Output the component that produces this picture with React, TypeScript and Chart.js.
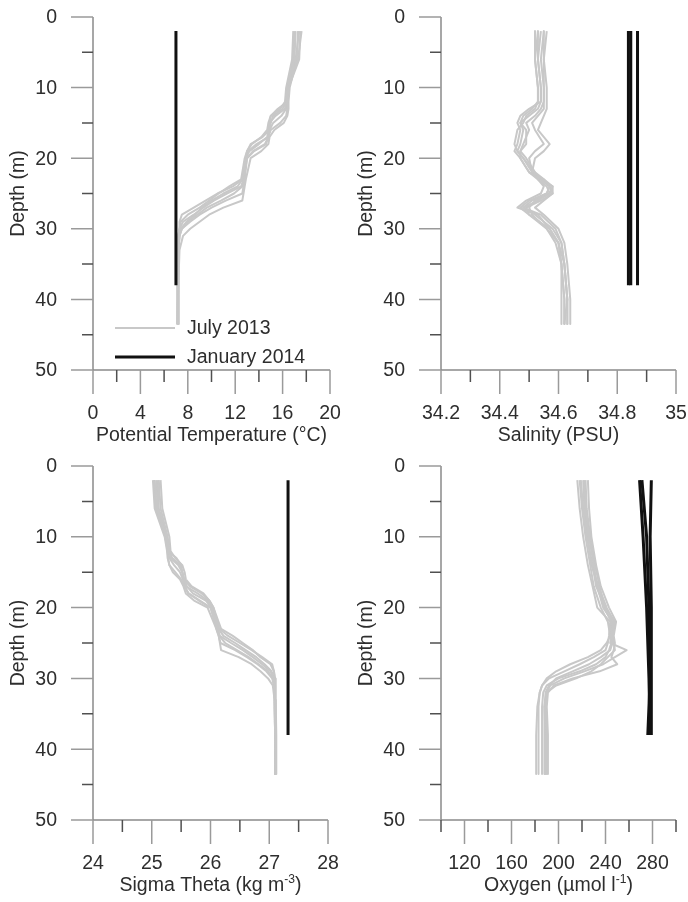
import React, { useEffect, useRef } from "react";
import { Chart, registerables } from "chart.js";

Chart.register(...registerables);

// ---------------- shared ----------------
const seriesLabels = ["July 2013", "January 2014"];
const depthTicks = [0, 10, 20, 30, 40, 50];
const depthMinorTicks = [5, 15, 25, 35, 45];

// ---------------- potential temperature ----------------
const tempTicks = [0, 4, 8, 12, 16, 20];
const tempMinorTicks = [2, 6, 10, 14, 18];
const julyTempDepth = [2, 6, 10, 12, 13, 14, 15, 16, 17, 18, 19, 20, 23, 24, 25, 26, 27, 28, 29, 30, 31, 33, 38, 43.5];
const julyTempA = [17.5, 17.4, 16.5, 16.4, 15.6, 15.0, 14.9, 14.9, 14.3, 13.3, 13.0, 12.9, 12.6, 11.8, 10.5, 9.5, 8.5, 7.5, 7.3, 7.3, 7.2, 7.2, 7.2, 7.2];
const julyTempB = [17.1, 17.0, 16.4, 16.3, 16.2, 15.4, 14.9, 14.8, 14.7, 14.0, 13.2, 12.9, 12.7, 12.5, 11.3, 10.2, 9.3, 8.5, 7.6, 7.3, 7.2, 7.2, 7.2, 7.1];
const julyTempC = [17.6, 17.3, 16.5, 16.4, 16.4, 16.3, 15.8, 15.0, 14.8, 14.6, 13.6, 13.0, 12.8, 12.7, 12.6, 11.2, 10.0, 9.0, 8.2, 7.5, 7.3, 7.2, 7.2, 7.2];
const julyTempD = [16.9, 16.8, 16.3, 16.2, 15.8, 15.0, 14.8, 14.7, 14.2, 13.4, 13.0, 12.8, 12.5, 11.5, 10.6, 9.8, 9.0, 8.0, 7.4, 7.3, 7.2, 7.2, 7.2, 7.2];
const julyTempE = [17.3, 17.2, 16.6, 16.5, 16.5, 16.4, 16.1, 15.3, 14.9, 14.8, 14.2, 13.3, 12.9, 12.8, 12.7, 12.6, 11.0, 9.8, 9.0, 8.2, 7.6, 7.3, 7.2, 7.2];
const julyTempF = [17.0, 16.9, 16.4, 16.3, 16.0, 15.2, 15.0, 14.9, 14.8, 13.8, 13.1, 12.9, 12.6, 12.2, 11.0, 10.0, 9.2, 8.6, 7.9, 7.4, 7.3, 7.2, 7.1, 7.1];
const julyTempG = [17.4, 17.1, 16.5, 16.4, 16.3, 15.9, 15.2, 14.9, 14.8, 14.5, 13.5, 13.0, 12.7, 12.6, 11.9, 10.8, 9.6, 8.8, 8.0, 7.5, 7.3, 7.2, 7.2, 7.2];
const janTempDepth = [2, 38];
const janTempA = [7.0, 7.0];

// ---------------- salinity ----------------
const salTicks = [34.2, 34.4, 34.6, 34.8, 35];
const salMinorTicks = [34.3, 34.5, 34.7, 34.9];
const julySalDepth = [2, 6, 10, 12, 13, 14, 15, 16, 18, 19, 20, 22, 23, 24, 25, 26, 27, 28, 30, 32, 35, 40, 43.5];
const julySalA = [34.53, 34.53, 34.54, 34.54, 34.50, 34.47, 34.46, 34.47, 34.46, 34.45, 34.47, 34.50, 34.54, 34.57, 34.56, 34.50, 34.47, 34.50, 34.56, 34.59, 34.61, 34.62, 34.62];
const julySalB = [34.55, 34.54, 34.55, 34.55, 34.54, 34.52, 34.49, 34.50, 34.48, 34.47, 34.49, 34.52, 34.55, 34.58, 34.57, 34.53, 34.48, 34.52, 34.58, 34.61, 34.62, 34.63, 34.63];
const julySalC = [34.52, 34.52, 34.53, 34.53, 34.52, 34.49, 34.48, 34.46, 34.45, 34.46, 34.48, 34.52, 34.53, 34.55, 34.54, 34.49, 34.46, 34.53, 34.57, 34.60, 34.61, 34.61, 34.61];
const julySalD = [34.56, 34.55, 34.56, 34.56, 34.56, 34.55, 34.54, 34.53, 34.57, 34.55, 34.52, 34.51, 34.54, 34.57, 34.58, 34.55, 34.52, 34.55, 34.60, 34.62, 34.63, 34.64, 34.64];
const julySalE = [34.54, 34.53, 34.54, 34.54, 34.53, 34.50, 34.47, 34.48, 34.47, 34.46, 34.48, 34.51, 34.55, 34.57, 34.56, 34.51, 34.48, 34.54, 34.59, 34.61, 34.62, 34.63, 34.62];
const julySalF = [34.53, 34.52, 34.53, 34.53, 34.51, 34.48, 34.47, 34.49, 34.49, 34.47, 34.47, 34.50, 34.53, 34.56, 34.57, 34.52, 34.50, 34.51, 34.56, 34.60, 34.61, 34.62, 34.62];
const julySalG = [34.55, 34.55, 34.55, 34.55, 34.55, 34.53, 34.51, 34.52, 34.55, 34.52, 34.50, 34.51, 34.54, 34.58, 34.58, 34.54, 34.49, 34.50, 34.57, 34.60, 34.62, 34.63, 34.63];
const janSalDepth = [2, 38];
const janSalA = [34.838, 34.838];
const janSalB = [34.846, 34.846];
const janSalC = [34.869, 34.869];

// ---------------- sigma theta ----------------
const sigmaTicks = [24, 25, 26, 27, 28];
const sigmaMinorTicks = [24.5, 25.5, 26.5, 27.5];
const julySigmaDepth = [2, 6, 10, 12, 13, 14, 15, 16, 17, 18, 19, 20, 23, 24, 25, 26, 27, 28, 29, 30, 31, 33, 38, 43.5];
const julySigmaA = [25.05, 25.08, 25.25, 25.28, 25.42, 25.50, 25.52, 25.55, 25.65, 25.85, 25.98, 26.05, 26.15, 26.30, 26.50, 26.70, 26.88, 27.05, 27.08, 27.09, 27.10, 27.10, 27.10, 27.10];
const julySigmaB = [25.12, 25.15, 25.27, 25.30, 25.32, 25.45, 25.52, 25.55, 25.60, 25.70, 25.92, 26.02, 26.12, 26.16, 26.35, 26.55, 26.72, 26.88, 27.02, 27.08, 27.09, 27.10, 27.11, 27.11];
const julySigmaC = [25.02, 25.05, 25.22, 25.26, 25.27, 25.30, 25.40, 25.50, 25.56, 25.62, 25.80, 26.00, 26.10, 26.14, 26.17, 26.42, 26.62, 26.80, 26.95, 27.05, 27.08, 27.09, 27.10, 27.10];
const julySigmaD = [25.15, 25.18, 25.30, 25.32, 25.40, 25.52, 25.56, 25.58, 25.68, 25.88, 25.98, 26.05, 26.18, 26.38, 26.55, 26.72, 26.85, 27.02, 27.08, 27.10, 27.11, 27.11, 27.12, 27.12];
const julySigmaE = [25.08, 25.10, 25.24, 25.27, 25.28, 25.30, 25.36, 25.48, 25.54, 25.58, 25.72, 25.95, 26.10, 26.14, 26.16, 26.18, 26.48, 26.70, 26.85, 26.98, 27.06, 27.09, 27.10, 27.10];
const julySigmaF = [25.10, 25.12, 25.26, 25.29, 25.35, 25.48, 25.52, 25.54, 25.58, 25.78, 25.95, 26.03, 26.14, 26.22, 26.42, 26.60, 26.78, 26.92, 27.04, 27.08, 27.09, 27.10, 27.10, 27.10];
const julySigmaG = [25.04, 25.07, 25.23, 25.27, 25.30, 25.38, 25.48, 25.53, 25.56, 25.63, 25.82, 26.00, 26.13, 26.15, 26.25, 26.45, 26.65, 26.82, 26.98, 27.06, 27.08, 27.09, 27.10, 27.10];
const janSigmaDepth = [2, 38];
const janSigmaA = [27.32, 27.32];

// ---------------- oxygen ----------------
const oxyTicks = [120, 160, 200, 240, 280];
const oxyMinorTicks = [100, 140, 180, 220, 260, 300];
const julyOxyDepth = [2, 6, 10, 14, 17, 20, 22, 24, 25, 26, 27, 28, 29, 30, 31, 32, 34, 38, 43.5];
const julyOxyA = [216, 218, 221, 225, 229, 233, 244, 243, 242, 240, 230, 218, 205, 192, 186, 184, 183, 183, 183];
const julyOxyB = [222, 223, 226, 230, 233, 238, 246, 245, 244, 258, 248, 238, 222, 205, 193, 190, 189, 190, 190];
const julyOxyC = [219, 221, 224, 229, 232, 240, 248, 246, 245, 243, 240, 232, 218, 200, 190, 187, 186, 186, 186];
const julyOxyD = [225, 226, 228, 232, 236, 243, 249, 247, 248, 247, 245, 250, 235, 212, 196, 191, 190, 191, 191];
const julyOxyE = [218, 220, 223, 227, 230, 236, 242, 244, 241, 236, 225, 210, 198, 190, 186, 184, 182, 181, 181];
const julyOxyF = [221, 222, 225, 228, 234, 241, 247, 246, 247, 248, 242, 236, 228, 215, 198, 190, 188, 188, 188];
const julyOxyG = [223, 224, 227, 231, 235, 239, 245, 244, 246, 244, 236, 226, 212, 198, 192, 189, 188, 189, 189];
const janOxyDepth = [2, 10, 20, 30, 38];
const janOxyA = [269, 272, 275, 277, 278];
const janOxyB = [279, 278, 279, 279, 279];
const janOxyC = [271, 275, 277, 278, 276];

// ---------------- styles ----------------
const GRAY = "#c8c8c8";
const BLACK = "#111111";
const TEXT = "#2e2e2e";
const AXIS = "#8a8a8a";
const MAJOR_TICK = "#9a9a9a";
const MINOR_TICK = "#505050";
const FONT_SIZE = 19.5;
const FONT_FAMILY = '"Liberation Sans", Arial, Helvetica, sans-serif';

type Seg = { t: string; sup?: boolean };

type PanelCfg = {
  key: string;
  left: number;
  top: number;
  width: number;
  height: number;
  area: { l: number; r: number; t: number; b: number };
  xMin: number;
  xMax: number;
  xTicks: number[];
  xMinor: number[];
  title: Seg[];
  july: { depth: number[]; series: number[][] };
  jan: { depth: number[]; series: number[][] };
  legend?: boolean;
};

const panels: PanelCfg[] = [
  {
    key: "temp", left: 0, top: 0, width: 344, height: 451,
    area: { l: 93, r: 330, t: 17, b: 370 },
    xMin: 0, xMax: 20, xTicks: tempTicks, xMinor: tempMinorTicks,
    title: [{ t: "Potential Temperature (°C)" }],
    july: { depth: julyTempDepth, series: [julyTempA, julyTempB, julyTempC, julyTempD, julyTempE, julyTempF, julyTempG] },
    jan: { depth: janTempDepth, series: [janTempA] },
    legend: true,
  },
  {
    key: "sal", left: 344, top: 0, width: 344, height: 451,
    area: { l: 97, r: 332, t: 17, b: 370 },
    xMin: 34.2, xMax: 35, xTicks: salTicks, xMinor: salMinorTicks,
    title: [{ t: "Salinity (PSU)" }],
    july: { depth: julySalDepth, series: [julySalA, julySalB, julySalC, julySalD, julySalE, julySalF, julySalG] },
    jan: { depth: janSalDepth, series: [janSalA, janSalB, janSalC] },
  },
  {
    key: "sigma", left: 0, top: 451, width: 344, height: 451,
    area: { l: 93, r: 328, t: 15, b: 369 },
    xMin: 24, xMax: 28, xTicks: sigmaTicks, xMinor: sigmaMinorTicks,
    title: [{ t: "Sigma Theta (kg m" }, { t: "-3", sup: true }, { t: ")" }],
    july: { depth: julySigmaDepth, series: [julySigmaA, julySigmaB, julySigmaC, julySigmaD, julySigmaE, julySigmaF, julySigmaG] },
    jan: { depth: janSigmaDepth, series: [janSigmaA] },
  },
  {
    key: "oxy", left: 344, top: 451, width: 344, height: 451,
    area: { l: 97, r: 332, t: 15, b: 369 },
    xMin: 100, xMax: 300, xTicks: oxyTicks, xMinor: oxyMinorTicks,
    title: [{ t: "Oxygen (µmol l" }, { t: "-1", sup: true }, { t: ")" }],
    july: { depth: julyOxyDepth, series: [julyOxyA, julyOxyB, julyOxyC, julyOxyD, julyOxyE, julyOxyF, julyOxyG] },
    jan: { depth: janOxyDepth, series: [janOxyA, janOxyB, janOxyC] },
  },
];

const toPoints = (depths: number[], vals: number[]) => vals.map((v, i) => ({ x: v, y: depths[i] }));

function drawSegments(ctx: CanvasRenderingContext2D, segs: Seg[], cx: number, cy: number) {
  const main = `${FONT_SIZE}px ${FONT_FAMILY}`;
  const small = `${FONT_SIZE * 0.62}px ${FONT_FAMILY}`;
  let total = 0;
  const widths = segs.map((s) => {
    ctx.font = s.sup ? small : main;
    const w = ctx.measureText(s.t).width;
    total += w;
    return w;
  });
  let x = cx - total / 2;
  ctx.textAlign = "left";
  ctx.textBaseline = "middle";
  segs.forEach((s, i) => {
    ctx.font = s.sup ? small : main;
    ctx.fillText(s.t, x, s.sup ? cy - FONT_SIZE * 0.32 : cy);
    x += widths[i];
  });
}

function makeAxesPlugin(p: PanelCfg) {
  return {
    id: "customAxes_" + p.key,
    afterDraw(chart: any) {
      const ctx: CanvasRenderingContext2D = chart.ctx;
      const xs = chart.scales.x;
      const ys = chart.scales.y;
      const a = chart.chartArea;
      ctx.save();
      ctx.lineCap = "butt";
      // axis lines
      ctx.strokeStyle = AXIS;
      ctx.lineWidth = 1.5;
      ctx.beginPath();
      ctx.moveTo(a.left, a.top);
      ctx.lineTo(a.left, a.bottom);
      ctx.moveTo(a.left, a.bottom);
      ctx.lineTo(a.right, a.bottom);
      ctx.stroke();
      // y ticks
      ctx.strokeStyle = MAJOR_TICK;
      ctx.beginPath();
      depthTicks.forEach((v) => {
        const y = ys.getPixelForValue(v);
        ctx.moveTo(a.left - 22, y);
        ctx.lineTo(a.left, y);
      });
      ctx.stroke();
      ctx.strokeStyle = MINOR_TICK;
      ctx.beginPath();
      depthMinorTicks.forEach((v) => {
        const y = ys.getPixelForValue(v);
        ctx.moveTo(a.left - 11, y);
        ctx.lineTo(a.left, y);
      });
      ctx.stroke();
      // x ticks
      ctx.strokeStyle = MAJOR_TICK;
      ctx.beginPath();
      p.xTicks.forEach((v) => {
        const x = xs.getPixelForValue(v);
        ctx.moveTo(x, a.bottom);
        ctx.lineTo(x, a.bottom + 24);
      });
      ctx.stroke();
      ctx.strokeStyle = MINOR_TICK;
      ctx.beginPath();
      p.xMinor.forEach((v) => {
        const x = xs.getPixelForValue(v);
        ctx.moveTo(x, a.bottom);
        ctx.lineTo(x, a.bottom + 12);
      });
      ctx.stroke();
      // labels
      ctx.fillStyle = TEXT;
      ctx.font = `${FONT_SIZE}px ${FONT_FAMILY}`;
      ctx.textAlign = "right";
      ctx.textBaseline = "middle";
      depthTicks.forEach((v) => {
        ctx.fillText(String(v), a.left - 36, ys.getPixelForValue(v) + 1);
      });
      ctx.textAlign = "center";
      p.xTicks.forEach((v) => {
        ctx.fillText(String(v), xs.getPixelForValue(v), a.bottom + 44);
      });
      // x title
      drawSegments(ctx, p.title, (a.left + a.right) / 2, a.bottom + 66);
      // y title
      ctx.save();
      ctx.translate(a.left - 74, (a.top + a.bottom) / 2);
      ctx.rotate(-Math.PI / 2);
      ctx.font = `${FONT_SIZE}px ${FONT_FAMILY}`;
      ctx.textAlign = "center";
      ctx.textBaseline = "middle";
      ctx.fillText("Depth (m)", 0, 0);
      ctx.restore();
      // legend
      if (p.legend) {
        const items = [
          { label: seriesLabels[0], color: GRAY, width: 2, y: a.bottom - 42 },
          { label: seriesLabels[1], color: BLACK, width: 3, y: a.bottom - 13 },
        ];
        items.forEach((it) => {
          ctx.strokeStyle = it.color;
          ctx.lineWidth = it.width;
          ctx.beginPath();
          ctx.moveTo(a.left + 22, it.y);
          ctx.lineTo(a.left + 82, it.y);
          ctx.stroke();
          ctx.fillStyle = TEXT;
          ctx.font = `${FONT_SIZE}px ${FONT_FAMILY}`;
          ctx.textAlign = "left";
          ctx.textBaseline = "middle";
          ctx.fillText(it.label, a.left + 94, it.y + 1);
        });
      }
      ctx.restore();
    },
  };
}

function Panel({ cfg }: { cfg: PanelCfg }) {
  const ref = useRef<HTMLCanvasElement | null>(null);
  useEffect(() => {
    if (!ref.current) return;
    const janSets = cfg.jan.series.map((vals, i) => ({
      label: seriesLabels[1] + " " + i,
      data: toPoints(cfg.jan.depth, vals),
      showLine: true,
      borderColor: BLACK,
      backgroundColor: BLACK,
      borderWidth: 3,
      pointRadius: 0,
      fill: false,
      tension: 0,
    }));
    const julySets = cfg.july.series.map((vals, i) => ({
      label: seriesLabels[0] + " " + i,
      data: toPoints(cfg.july.depth, vals),
      showLine: true,
      borderColor: GRAY,
      backgroundColor: GRAY,
      borderWidth: 2,
      pointRadius: 0,
      fill: false,
      tension: 0,
      borderJoinStyle: "round",
    }));
    const chart = new Chart(ref.current, {
      type: "scatter",
      data: { datasets: [...janSets, ...julySets] as any },
      options: {
        animation: false,
        responsive: false,
        maintainAspectRatio: false,
        events: [],
        layout: {
          padding: {
            left: cfg.area.l,
            right: cfg.width - cfg.area.r,
            top: cfg.area.t,
            bottom: cfg.height - cfg.area.b,
          },
        },
        scales: {
          x: { type: "linear", min: cfg.xMin, max: cfg.xMax, display: false },
          y: { type: "linear", min: 0, max: 50, reverse: true, display: false },
        },
        plugins: { legend: { display: false }, tooltip: { enabled: false } },
      },
      plugins: [makeAxesPlugin(cfg)],
    } as any);
    return () => chart.destroy();
  }, [cfg]);
  return (
    <canvas
      ref={ref}
      width={cfg.width}
      height={cfg.height}
      style={{ position: "absolute", left: cfg.left, top: cfg.top, width: cfg.width, height: cfg.height }}
    />
  );
}

export default function App() {
  return (
    <div style={{ position: "absolute", left: 0, top: 0, width: 688, height: 902, background: "#ffffff" }}>
      {panels.map((p) => (
        <Panel key={p.key} cfg={p} />
      ))}
    </div>
  );
}
